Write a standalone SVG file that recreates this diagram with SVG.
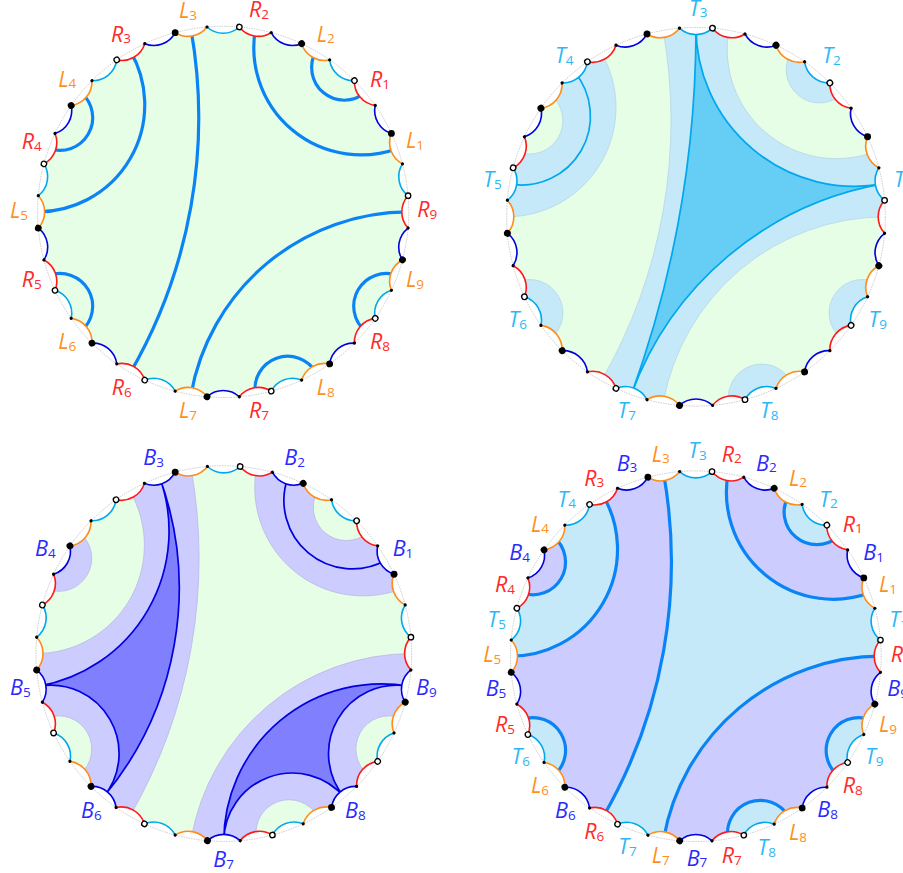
<svg xmlns="http://www.w3.org/2000/svg" width="903" height="873" viewBox="0 0 903 873">
<style>
text{font-family:"Open Sans","Liberation Sans",sans-serif;font-style:italic;font-weight:400;font-size:21.5px}
tspan{font-style:normal;font-weight:400;font-size:13.5px}
.tr{fill:#ff2a2a}.tl{fill:#ff8f20}.tt{fill:#2db8f5}.tb{fill:#2a2aff}
.arc{fill:none;stroke-width:1.6}
.thick{fill:none;stroke:#0a84f5;stroke-width:3.2}
.cy{fill:none;stroke:#00a8ee;stroke-width:1.7}
.bl{fill:none;stroke:#0000e0;stroke-width:1.7}
.green{fill:#e6fde6}
.guide{fill:none;stroke:#aaa;stroke-width:.6;stroke-dasharray:1.5 1}
</style>
<defs>
<path id="inner" d="M184.89,-16.18A24 24 0 0 1 179.28,-48.04A24 24 0 0 1 168.21,-78.44A24 24 0 0 1 152.03,-106.46A24 24 0 0 1 131.24,-131.24A24 24 0 0 1 106.46,-152.03A24 24 0 0 1 78.44,-168.21A24 24 0 0 1 48.04,-179.28A24 24 0 0 1 16.18,-184.89A24 24 0 0 1 -16.18,-184.89A24 24 0 0 1 -48.04,-179.28A24 24 0 0 1 -78.44,-168.21A24 24 0 0 1 -106.46,-152.03A24 24 0 0 1 -131.24,-131.24A24 24 0 0 1 -152.03,-106.46A24 24 0 0 1 -168.21,-78.44A24 24 0 0 1 -179.28,-48.04A24 24 0 0 1 -184.89,-16.18A24 24 0 0 1 -184.89,16.18A24 24 0 0 1 -179.28,48.04A24 24 0 0 1 -168.21,78.44A24 24 0 0 1 -152.03,106.46A24 24 0 0 1 -131.24,131.24A24 24 0 0 1 -106.46,152.03A24 24 0 0 1 -78.44,168.21A24 24 0 0 1 -48.04,179.28A24 24 0 0 1 -16.18,184.89A24 24 0 0 1 16.18,184.89A24 24 0 0 1 48.04,179.28A24 24 0 0 1 78.44,168.21A24 24 0 0 1 106.46,152.03A24 24 0 0 1 131.24,131.24A24 24 0 0 1 152.03,106.46A24 24 0 0 1 168.21,78.44A24 24 0 0 1 179.28,48.04A24 24 0 0 1 184.89,16.18A24 24 0 0 1 184.89,-16.18Z"/>
<clipPath id="clipInner"><use href="#inner"/></clipPath>
<path id="regT" d="M185.6,0A185.6 185.6 0 0 0 174.41,-63.48A107.16 107.16 0 0 1 32.23,-182.78A185.6 185.6 0 0 0 -32.23,-182.78A509.93 509.93 0 0 1 -92.8,160.73A185.6 185.6 0 0 0 -32.23,182.78A221.19 221.19 0 0 1 185.6,0Z
M-92.8,-160.73A107.16 107.16 0 0 1 -185.6,0A185.6 185.6 0 0 1 -174.41,-63.48A32.73 32.73 0 0 0 -142.18,-119.3A185.6 185.6 0 0 1 -92.8,-160.73Z
M142.18,-119.3A32.73 32.73 0 0 1 92.8,-160.73A185.6 185.6 0 0 1 142.18,-119.3Z
M-174.41,63.48A32.73 32.73 0 0 1 -142.18,119.3A185.6 185.6 0 0 1 -174.41,63.48Z
M32.23,182.78A32.73 32.73 0 0 1 92.8,160.73A185.6 185.6 0 0 1 32.23,182.78Z
M142.18,119.3A32.73 32.73 0 0 1 174.41,63.48A185.6 185.6 0 0 1 142.18,119.3Z"/>
<path id="regB" d="M174.41,-63.48A107.16 107.16 0 0 1 32.23,-182.78A185.6 185.6 0 0 1 92.8,-160.73A32.73 32.73 0 0 0 142.18,-119.3A185.6 185.6 0 0 1 174.41,-63.48Z
M-142.18,-119.3A32.73 32.73 0 0 1 -174.41,-63.48A185.6 185.6 0 0 1 -142.18,-119.3Z
M-32.23,-182.78A509.93 509.93 0 0 1 -92.8,160.73A185.6 185.6 0 0 1 -142.18,119.3A32.73 32.73 0 0 0 -174.41,63.48A185.6 185.6 0 0 1 -185.6,0A107.16 107.16 0 0 0 -92.8,-160.73A185.6 185.6 0 0 1 -32.23,-182.78Z
M-32.23,182.78A221.19 221.19 0 0 1 185.6,0A185.6 185.6 0 0 1 174.41,63.48A32.73 32.73 0 0 0 142.18,119.3A185.6 185.6 0 0 1 92.8,160.73A32.73 32.73 0 0 0 32.23,182.78A185.6 185.6 0 0 1 -32.23,182.78Z"/>
<g id="cuts" class="thick">
<path d="M174.41,-63.48A107.16 107.16 0 0 1 32.23,-182.78"/>
<path d="M142.18,-119.3A32.73 32.73 0 0 1 92.8,-160.73"/>
<path d="M-32.23,-182.78A509.93 509.93 0 0 1 -92.8,160.73"/>
<path d="M-92.8,-160.73A107.16 107.16 0 0 1 -185.6,0"/>
<path d="M-142.18,-119.3A32.73 32.73 0 0 1 -174.41,-63.48"/>
<path d="M-174.41,63.48A32.73 32.73 0 0 1 -142.18,119.3"/>
<path d="M-32.23,182.78A221.19 221.19 0 0 1 185.6,0"/>
<path d="M32.23,182.78A32.73 32.73 0 0 1 92.8,160.73"/>
<path d="M142.18,119.3A32.73 32.73 0 0 1 174.41,63.48"/>
</g>
<g id="sector">
<path class="arc" stroke="#00a8ee" d="M184.89,-16.18A24 24 0 0 1 179.28,-48.04"/>
<path class="arc" stroke="#ff8c1a" d="M179.28,-48.04A24 24 0 0 1 168.21,-78.44"/>
<path class="arc" stroke="#0000e0" d="M168.21,-78.44A24 24 0 0 1 152.03,-106.46"/>
<path class="arc" stroke="#ff1a1a" d="M152.03,-106.46A24 24 0 0 1 131.24,-131.24"/>
</g>
<g id="dots">
<circle cx="184.89" cy="-16.18" r="2.7" fill="#fff" stroke="#000" stroke-width="1.3"/>
<circle cx="179.28" cy="-48.04" r="1.6"/>
<circle cx="168.21" cy="-78.44" r="3.4"/>
<circle cx="152.03" cy="-106.46" r="1.6"/>
</g>
<g id="rim">
<circle class="guide" r="185.6"/>
<use href="#sector"/><use href="#sector" transform="rotate(-40)"/><use href="#sector" transform="rotate(-80)"/><use href="#sector" transform="rotate(-120)"/><use href="#sector" transform="rotate(-160)"/><use href="#sector" transform="rotate(-200)"/><use href="#sector" transform="rotate(-240)"/><use href="#sector" transform="rotate(-280)"/><use href="#sector" transform="rotate(-320)"/>
<use href="#dots"/><use href="#dots" transform="rotate(-40)"/><use href="#dots" transform="rotate(-80)"/><use href="#dots" transform="rotate(-120)"/><use href="#dots" transform="rotate(-160)"/><use href="#dots" transform="rotate(-200)"/><use href="#dots" transform="rotate(-240)"/><use href="#dots" transform="rotate(-280)"/><use href="#dots" transform="rotate(-320)"/>
</g>
</defs>

<g id="disk-top-left">
<g transform="translate(223.2,211.9)">
<use href="#inner" class="green"/>
<g id="connectors-top-left" clip-path="url(#clipInner)"><use href="#cuts"/></g>
<use href="#rim"/>
</g>
<text class="tl" x="179" y="18.3">L<tspan dy="1.5">3</tspan></text>
<text class="tr" x="111" y="41.7">R<tspan dy="1.5">3</tspan></text>
<text class="tl" x="58.3" y="86.7">L<tspan dy="1.5">4</tspan></text>
<text class="tr" x="21.7" y="149">R<tspan dy="1.5">4</tspan></text>
<text class="tl" x="10" y="218.3">L<tspan dy="1.5">5</tspan></text>
<text class="tr" x="249" y="17.3">R<tspan dy="1.5">2</tspan></text>
<text class="tl" x="316.7" y="41.7">L<tspan dy="1.5">2</tspan></text>
<text class="tr" x="370" y="87.3">R<tspan dy="1.5">1</tspan></text>
<text class="tl" x="406" y="148.3">L<tspan dy="1.5">1</tspan></text>
<text class="tr" x="417.3" y="217.3">R<tspan dy="1.5">9</tspan></text>
<text class="tr" x="21.7" y="287.3">R<tspan dy="1.5">5</tspan></text>
<text class="tl" x="58.3" y="349.3">L<tspan dy="1.5">6</tspan></text>
<text class="tr" x="111.7" y="395">R<tspan dy="1.5">6</tspan></text>
<text class="tl" x="179" y="418.3">L<tspan dy="1.5">7</tspan></text>
<text class="tr" x="249" y="418.3">R<tspan dy="1.5">7</tspan></text>
<text class="tl" x="316.7" y="395">L<tspan dy="1.5">8</tspan></text>
<text class="tr" x="370" y="349.3">R<tspan dy="1.5">8</tspan></text>
<text class="tl" x="406" y="287.3">L<tspan dy="1.5">9</tspan></text>
</g>

<g id="disk-top-right">
<g transform="translate(696,216.8) scale(1.02)">
<use href="#inner" class="green"/>
<g clip-path="url(#clipInner)">
<use href="#regT" fill="#c6e9fa" stroke="#b4d6e8" stroke-width=".8"/>
<g id="connectors-top-right">
<path class="cy" style="fill:#66cdf5" d="M182.78,-32.23A155.74 155.74 0 0 1 0,-185.6A1052.6 1052.6 0 0 1 -63.48,174.41A321.47 321.47 0 0 1 182.78,-32.23Z"/>
<path class="cy" d="M-119.3,-142.18A67.55 67.55 0 0 1 -182.78,-32.23"/>
</g>
</g>
<use href="#rim"/>
</g>
<text class="tt" x="555" y="63.3">T<tspan dy="1.5">4</tspan></text>
<text class="tt" x="483.3" y="187.3">T<tspan dy="1.5">5</tspan></text>
<text class="tt" x="689" y="15.7">T<tspan dy="1.5">3</tspan></text>
<text class="tt" x="822.3" y="63.3">T<tspan dy="1.5">2</tspan></text>
<text class="tt" x="894" y="187.3">T<tspan dy="1.5">1</tspan></text>
<text class="tt" x="508.6" y="327.3">T<tspan dy="1.5">6</tspan></text>
<text class="tt" x="617.6" y="418.3">T<tspan dy="1.5">7</tspan></text>
<text class="tt" x="760" y="418.3">T<tspan dy="1.5">8</tspan></text>
<text class="tt" x="868.6" y="327.3">T<tspan dy="1.5">9</tspan></text>
</g>

<g id="disk-bottom-left">
<g transform="translate(223.8,653.6) scale(1.012)">
<use href="#inner" class="green"/>
<g clip-path="url(#clipInner)">
<use href="#regB" fill="#ccccff" stroke="#b8b8e6" stroke-width=".8"/>
<g id="connectors-bottom-left">
<path class="bl" style="fill:#8080ff" d="M-63.48,-174.41A155.74 155.74 0 0 1 -182.78,32.23A67.55 67.55 0 0 1 -119.3,142.18A321.47 321.47 0 0 0 -63.48,-174.41Z"/>
<path class="bl" style="fill:#8080ff" d="M0,185.6A67.55 67.55 0 0 1 119.3,142.18A67.55 67.55 0 0 1 182.78,32.23A155.74 155.74 0 0 0 0,185.6Z"/>
<path class="bl" d="M160.73,-92.8A67.55 67.55 0 0 1 63.48,-174.41"/>
</g>
</g>
<use href="#rim"/>
</g>
<text class="tb" x="143.3" y="465">B<tspan dy="1.5">3</tspan></text>
<text class="tb" x="284.3" y="465">B<tspan dy="1.5">2</tspan></text>
<text class="tb" x="35" y="556">B<tspan dy="1.5">4</tspan></text>
<text class="tb" x="392.7" y="556">B<tspan dy="1.5">1</tspan></text>
<text class="tb" x="10" y="695">B<tspan dy="1.5">5</tspan></text>
<text class="tb" x="81" y="818.3">B<tspan dy="1.5">6</tspan></text>
<text class="tb" x="213.3" y="867">B<tspan dy="1.5">7</tspan></text>
<text class="tb" x="345" y="818.3">B<tspan dy="1.5">8</tspan></text>
<text class="tb" x="416" y="695">B<tspan dy="1.5">9</tspan></text>
</g>

<g id="disk-bottom-right">
<g transform="translate(695.85,656.2) scale(.9985)">
<use href="#inner" fill="#c6e9fa"/>
<g clip-path="url(#clipInner)">
<use href="#regB" fill="#ccccff"/>
<g id="connectors-bottom-right"><use href="#cuts"/></g>
</g>
<use href="#rim"/>
</g>
<text class="tl" x="651.7" y="461.7">L<tspan dy="1.5">3</tspan></text>
<text class="tt" x="688.3" y="458.3">T<tspan dy="1.5">3</tspan></text>
<text class="tr" x="721.7" y="461.7">R<tspan dy="1.5">2</tspan></text>
<text class="tb" x="756" y="470.7">B<tspan dy="1.5">2</tspan></text>
<text class="tl" x="789" y="485.7">L<tspan dy="1.5">2</tspan></text>
<text class="tt" x="819.3" y="506.7">T<tspan dy="1.5">2</tspan></text>
<text class="tr" x="842.7" y="531.7">R<tspan dy="1.5">1</tspan></text>
<text class="tb" x="863.3" y="560">B<tspan dy="1.5">1</tspan></text>
<text class="tl" x="879" y="592.3">L<tspan dy="1.5">1</tspan></text>
<text class="tt" x="889.3" y="627.3">T<tspan dy="1.5">1</tspan></text>
<text class="tr" x="890.7" y="661.7">R<tspan dy="1.5">9</tspan></text>
<text class="tb" x="887.3" y="696">B<tspan dy="1.5">9</tspan></text>
<text class="tl" x="879" y="732.3">L<tspan dy="1.5">9</tspan></text>
<text class="tt" x="865" y="764">T<tspan dy="1.5">9</tspan></text>
<text class="tr" x="842.7" y="793.3">R<tspan dy="1.5">8</tspan></text>
<text class="tb" x="817.3" y="817.3">B<tspan dy="1.5">8</tspan></text>
<text class="tl" x="789" y="840">L<tspan dy="1.5">8</tspan></text>
<text class="tt" x="757.6" y="855">T<tspan dy="1.5">8</tspan></text>
<text class="tr" x="721.7" y="863.3">R<tspan dy="1.5">7</tspan></text>
<text class="tb" x="686.7" y="865.7">B<tspan dy="1.5">7</tspan></text>
<text class="tl" x="651.7" y="863.3">L<tspan dy="1.5">7</tspan></text>
<text class="tt" x="618.3" y="854.3">T<tspan dy="1.5">7</tspan></text>
<text class="tr" x="584.3" y="839.3">R<tspan dy="1.5">6</tspan></text>
<text class="tb" x="555" y="818.3">B<tspan dy="1.5">6</tspan></text>
<text class="tl" x="531" y="793.3">L<tspan dy="1.5">6</tspan></text>
<text class="tt" x="511.6" y="764">T<tspan dy="1.5">6</tspan></text>
<text class="tr" x="495" y="732.3">R<tspan dy="1.5">5</tspan></text>
<text class="tb" x="485.7" y="696">B<tspan dy="1.5">5</tspan></text>
<text class="tl" x="483.3" y="662.3">L<tspan dy="1.5">5</tspan></text>
<text class="tt" x="487.6" y="627.3">T<tspan dy="1.5">5</tspan></text>
<text class="tr" x="495" y="592.3">R<tspan dy="1.5">4</tspan></text>
<text class="tb" x="509.3" y="560">B<tspan dy="1.5">4</tspan></text>
<text class="tl" x="531" y="531.7">L<tspan dy="1.5">4</tspan></text>
<text class="tt" x="557.6" y="506.7">T<tspan dy="1.5">4</tspan></text>
<text class="tr" x="584.3" y="485.7">R<tspan dy="1.5">3</tspan></text>
<text class="tb" x="616.7" y="470.7">B<tspan dy="1.5">3</tspan></text>
</g>
</svg>
